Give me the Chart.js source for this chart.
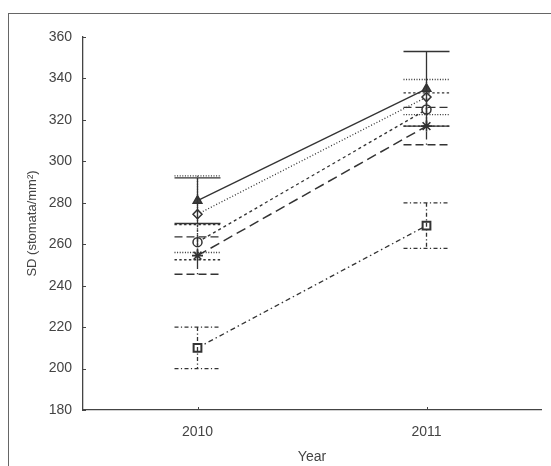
<!DOCTYPE html>
<html>
<head>
<meta charset="utf-8">
<script src="https://cdn.jsdelivr.net/npm/chart.js@4"></script>
<style>
  html, body { margin:0; padding:0; background:#fff; overflow:hidden; }
  #wrap { position:relative; width:551px; height:466px; }
  #frame { position:absolute; left:8px; top:13px; width:560px; height:480px; border:1px solid #666; box-sizing:border-box; }
  canvas { position:absolute; left:0; top:0; }
</style>
</head>
<body>
<div id="wrap">
  <div id="frame"></div>
  <canvas id="chart" width="551" height="466"></canvas>
</div>
<script>
const years = [2010, 2011];
const yTicks = [180, 200, 220, 240, 260, 280, 300, 320, 340, 360];

// means and half-widths of the error bars, one pair per series
const triMean = [281, 335];   const triErr = [11, 18];
const diaMean = [274.5, 331]; const diaErr = [18.5, 8.5];
const cirMean = [261, 325];   const cirErr = [8.5, 8];
const starMean = [254.5, 317]; const starErr = [9, 9];
const sqMean = [210, 269];    const sqErr = [10, 11];

const INK = "#333";

function series(mean, err, style, dash, cfg){
  return {
    data: years.map((x, i) => ({ x, y: mean[i] })),
    errs: err,
    borderColor: INK,
    borderWidth: 1.3,
    borderDash: dash,
    pointStyle: style,
    pointBorderColor: INK,
    pointBorderWidth: 1.5,
    pointBackgroundColor: "#fff",
    pointRadius: 4.5,
    fill: false,
    tension: 0,
    ...cfg
  };
}

const datasets = [
  series(sqMean, sqErr, "rect", [5, 3, 1.5, 3], { pointRadius: 5.5, pointBorderWidth: 2 }),
  series(starMean, starErr, "star", [10, 5], { borderWidth: 1.5, pointRadius: 5.5, pointBorderWidth: 1.6 }),
  series(cirMean, cirErr, "circle", [3, 3], {}),
  series(diaMean, diaErr, "rectRot", [1, 2], {}),
  series(triMean, triErr, "triangle", [], { pointBackgroundColor: "#444", pointRadius: 5 })
];

const errorBars = {
  id: "errorBars",
  afterDatasetsDraw(chart){
    const { ctx, scales:{ x, y } } = chart;
    ctx.save();
    ctx.strokeStyle = INK;
    chart.data.datasets.forEach(ds => {
      ctx.lineWidth = 1.3;
      ctx.setLineDash(ds.borderDash.length ? ds.borderDash.map(v => Math.max(v * 0.8, 1)) : []);
      ds.data.forEach((p, i) => {
        const px = x.getPixelForValue(p.x);
        const top = y.getPixelForValue(p.y + ds.errs[i]);
        const bot = y.getPixelForValue(p.y - ds.errs[i]);
        ctx.beginPath();
        ctx.moveTo(px, top); ctx.lineTo(px, bot);
        ctx.moveTo(px - 23, top); ctx.lineTo(px + 23, top);
        ctx.moveTo(px - 23, bot); ctx.lineTo(px + 23, bot);
        ctx.stroke();
      });
    });
    ctx.restore();
  }
};

// small tick marks pointing into the plot
const innerTicks = {
  id: "innerTicks",
  afterDraw(chart){
    const { ctx, scales:{ x, y }, chartArea } = chart;
    ctx.save();
    ctx.strokeStyle = "#444";
    ctx.lineWidth = 1;
    ctx.beginPath();
    y.ticks.forEach(t => {
      const py = Math.round(y.getPixelForValue(t.value)) + 0.5;
      ctx.moveTo(chartArea.left, py); ctx.lineTo(chartArea.left + 3, py);
    });
    x.ticks.forEach(t => {
      const px = Math.round(x.getPixelForValue(t.value)) + 0.5;
      ctx.moveTo(px, chartArea.bottom); ctx.lineTo(px, chartArea.bottom - 3);
    });
    ctx.stroke();
    ctx.restore();
  }
};

Chart.defaults.font.family = "'Liberation Sans', Arial, sans-serif";
Chart.defaults.color = "#444";

new Chart(document.getElementById("chart").getContext("2d"), {
  type: "line",
  data: { datasets },
  options: {
    responsive: false,
    animation: false,
    events: [],
    layout: { padding: { left: 0, top: 37, right: 10, bottom: 0 } },
    plugins: { legend: { display: false }, tooltip: { enabled: false } },
    scales: {
      x: {
        type: "linear",
        min: 2009.5, max: 2011.5,
        afterBuildTicks: s => { s.ticks = years.map(v => ({ value: v })); },
        afterFit: s => { s.height = 56; },
        grid: { display: false, drawTicks: false },
        border: { display: true, color: "#444", width: 1.3 },
        ticks: { padding: 14, font: { size: 14 }, callback: v => String(v) },
        title: { display: true, text: "Year", font: { size: 14 }, padding: { top: 1, bottom: 0 } }
      },
      y: {
        min: 180, max: 360,
        afterBuildTicks: s => { s.ticks = yTicks.map(v => ({ value: v })); },
        afterFit: s => { s.width = 83; },
        grid: { display: false, drawTicks: false },
        border: { display: true, color: "#444", width: 1.3 },
        ticks: { padding: 11, font: { size: 14 } },
        title: { display: true, text: "SD (stomata/mm²)", font: { size: 13 }, padding: { top: 25, bottom: 0 } }
      }
    }
  },
  plugins: [errorBars, innerTicks]
});
</script>
</body>
</html>
